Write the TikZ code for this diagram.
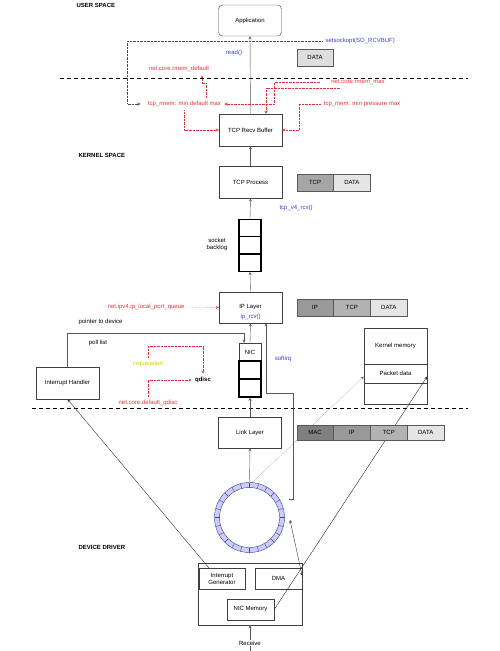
\documentclass[tikz,border=0pt]{standalone}
\usepackage{fontspec}
\setmainfont{Liberation Sans}
\usetikzlibrary{positioning}
\definecolor{redtxt}{RGB}{226,48,60}
\definecolor{bluetxt}{RGB}{60,60,214}
\definecolor{yeltxt}{RGB}{206,206,0}
\definecolor{ringfill}{RGB}{204,204,255}
\definecolor{ringline}{RGB}{64,64,140}
\begin{document}
\begin{tikzpicture}[x=1pt,y=-1pt,>=stealth,font=\fontsize{6}{7}\selectfont,
  box/.style={draw=black!75,minimum width=63pt,minimum height=32pt,inner sep=0pt},
  cell/.style={draw=black,very thick,minimum width=22pt,minimum height=17.3pt,inner sep=0pt},
  pk/.style={draw=black!65,minimum width=36.5pt,minimum height=17pt,inner sep=0pt},
  flow/.style={->,draw=black!65},
  cfg/.style={->,draw=redtxt,densely dotted},
  title/.style={anchor=west,font=\fontsize{6}{7}\selectfont\bfseries}]
\useasboundingbox (0,0) rectangle (500,651);

% layers
\node[title] (user) at (73,5) {USER SPACE};
\node[title] (kern) at (75,155) {KERNEL SPACE};
\node[title] (drv) at (75,547) {DEVICE DRIVER};
\draw[line width=0.9pt,dash pattern=on 4pt off 3pt] (60,78) -- (468,78);
\draw[line width=0.9pt,dash pattern=on 4pt off 3pt] (32,408) -- (468,408);

% main path
\node[box,rounded corners=4pt,minimum height=31pt] (app) at (250,20.5) {Application};
\node[box] (rcv) at (250.5,130) {TCP Recv Buffer};
\node[box] (tcp) at (250.5,182) {TCP Process};
\node[cell] (q1) at (250,228) {};
\node[cell] (q2) at (250,245.3) {};
\node[cell] (q3) at (250,262.6) {};
\node[align=center] (bl) at (217,244) {socket\\backlog};
\node[box,minimum height=31pt] (ip) at (250.5,307.5) {IP Layer};
\node[bluetxt] (iprcv) at (250.5,317) {ip\_rcv()};
\node[draw=black!75,minimum width=22pt,minimum height=18pt,inner sep=0pt] (nic) at (250,352) {NIC};
\node[cell,minimum height=18pt] (n2) at (250,370) {};
\node[cell,minimum height=18pt] (n3) at (250,388) {};
\node[box,minimum height=31pt] (link) at (250,432.5) {Link Layer};

\draw[flow] (rcv.north) -- (app.south);
\draw[flow] (tcp.north) -- (rcv.south);
\draw[flow] (q1.north) -- (tcp.south);
\draw[flow] (ip.north) -- (q3.south);
\draw[flow] (nic.north) -- (ip.south);
\draw[flow] (link.north) -- (n3.south);

% ring buffer
\node[circle,minimum size=70pt,inner sep=0pt] (ring) at (249.5,517.5) {};
\fill[ringfill,even odd rule] (ring.center) circle (35) circle (30);
\draw[ringline] (ring.center) circle (35) circle (30);
\foreach \a in {0,15,...,345}
  \draw[ringline] (ring.center) ++(\a:30) -- ++(\a:5);
\draw[flow] (ring.north) -- (link.south);

% nic device
\node[draw=black!75,minimum width=104pt,minimum height=62pt,inner sep=0pt] (dev) at (250,594) {};
\node[draw=black!75,minimum width=46pt,minimum height=21pt,inner sep=0pt,align=center] (ig) at (222,578.5) {Interrupt\\Generator};
\node[draw=black!75,minimum width=47pt,minimum height=21pt,inner sep=0pt] (dma) at (278.5,578.5) {DMA};
\node[draw=black!75,minimum width=47pt,minimum height=21pt,inner sep=0pt] (nicmem) at (250.5,609.5) {NIC Memory};
\coordinate (rx) at (250,651);
\draw[flow] (rx) -- (dev.south);
\node[fill=white,inner sep=1pt] (recv) at (250,643) {Receive};

% interrupt handling
\node[box] (ih) at (67.5,383) {Interrupt Handler};
\node[anchor=west] (ptr) at (75,322) {pointer to device};
\node (poll) at (98,343) {poll list};
\draw[flow] (ih.north) |- ([xshift=-6pt,yshift=10pt]nic.north) -- ([xshift=-6pt]nic.north);
\draw[->,black!80] ([xshift=10pt]ig.north west) -- (ih.south);
\coordinate (dmaend) at (290,520);
\draw[<->,black!80] (dmaend) -- ([yshift=-8pt]dma.north east);

% softirq
\coordinate (sq) at (289,499);
\node[bluetxt] (sirq) at (283,359) {softirq};
\draw[flow] (sq) -- ++(4,0) -- ++(0,-106) -| ([xshift=15.5pt]ip.south);

% kernel memory
\node[draw=black!75,minimum width=63pt,minimum height=36pt,inner sep=0pt] (km) at (395.5,346) {Kernel memory};
\node[draw=black!75,minimum width=63pt,minimum height=19pt,inner sep=0pt] (pkt) at (395.5,373.5) {Packet data};
\node[draw=black!75,minimum width=63pt,minimum height=21pt,inner sep=0pt] (kmb) at (395.5,393.5) {};
\draw[->,densely dotted,black!65] ([xshift=3pt]ring.north) -- ([yshift=-3pt]pkt.west);
\draw[->,black!85] (nicmem.east) -- ([yshift=-3pt]pkt.east);

% packets
\node[pk,fill=black!13] (d0) at (315,57.5) {DATA};
\node[pk,fill=black!35] (t1) at (315,182.5) {TCP};
\node[pk,fill=black!10,right=0pt of t1] (d1) {DATA};
\node[pk,fill=black!40] (i2) at (315,307.5) {IP};
\node[pk,fill=black!30,right=0pt of i2] (t2) {TCP};
\node[pk,fill=black!10,right=0pt of t2] (d2) {DATA};
\node[pk,fill=black!50,minimum height=15pt] (m3) at (315,432.5) {MAC};
\node[pk,fill=black!40,minimum height=15pt,right=0pt of m3] (i3) {IP};
\node[pk,fill=black!30,minimum height=15pt,right=0pt of i3] (t3) {TCP};
\node[pk,fill=black!10,minimum height=15pt,right=0pt of t3] (d3) {DATA};

% settings
\node[anchor=west,bluetxt] (sso) at (322,41) {setsockopt(SO\_RCVBUF)};
\node[bluetxt] (read) at (234,53) {read()};
\node[redtxt] (rdef) at (179,69) {net.core.rmem\_default};
\node[redtxt] (trmem) at (184.5,104) {tcp\_rmem: min default max};
\node[redtxt] (rmax) at (358,82) {net.core.rmem\_max};
\node[redtxt] (tmem) at (362,104) {tcp\_mem: min pressure max};
\node[anchor=west,bluetxt] (tcpv4) at (276,208) {tcp\_v4\_rcv()};
\node[anchor=east,redtxt] (lpq) at (188,307) {net.ipv4.ip\_local\_port\_queue};
\node[yeltxt] (rxq) at (148,364) {rxqueuelen};
\node[font=\fontsize{6}{7}\selectfont\bfseries] (qd) at (203,380) {qdisc};
\node[redtxt] (dq) at (148,403) {net.core.default\_qdisc};

\draw[->,densely dotted,black!70] (sso.west) -| ([xshift=-17pt]trmem.west) -- ([xshift=-4pt]trmem.west);
\draw[cfg] ([xshift=21.5pt]trmem.north) -- ++(0,-14) -| ([xshift=23pt]rdef.south);
\draw[cfg] (trmem.south) |- (rcv.west);
\draw[cfg] ([xshift=-8pt]rmax.west) -| ([xshift=50pt]trmem.east) -- (trmem.east);
\draw[cfg] ([xshift=12pt]rmax.south west) -| ([xshift=15.5pt]rcv.north);
\draw[cfg] (tmem.west) -| ([xshift=17pt]rcv.east) -- (rcv.east);
\draw[cfg] (lpq.east) -- (ip.west);
\draw[cfg] (rxq.north) -- ++(0,-11) -| (qd.north);
\draw[cfg] (dq.north) |- (qd.west);
\end{tikzpicture}
\end{document}
